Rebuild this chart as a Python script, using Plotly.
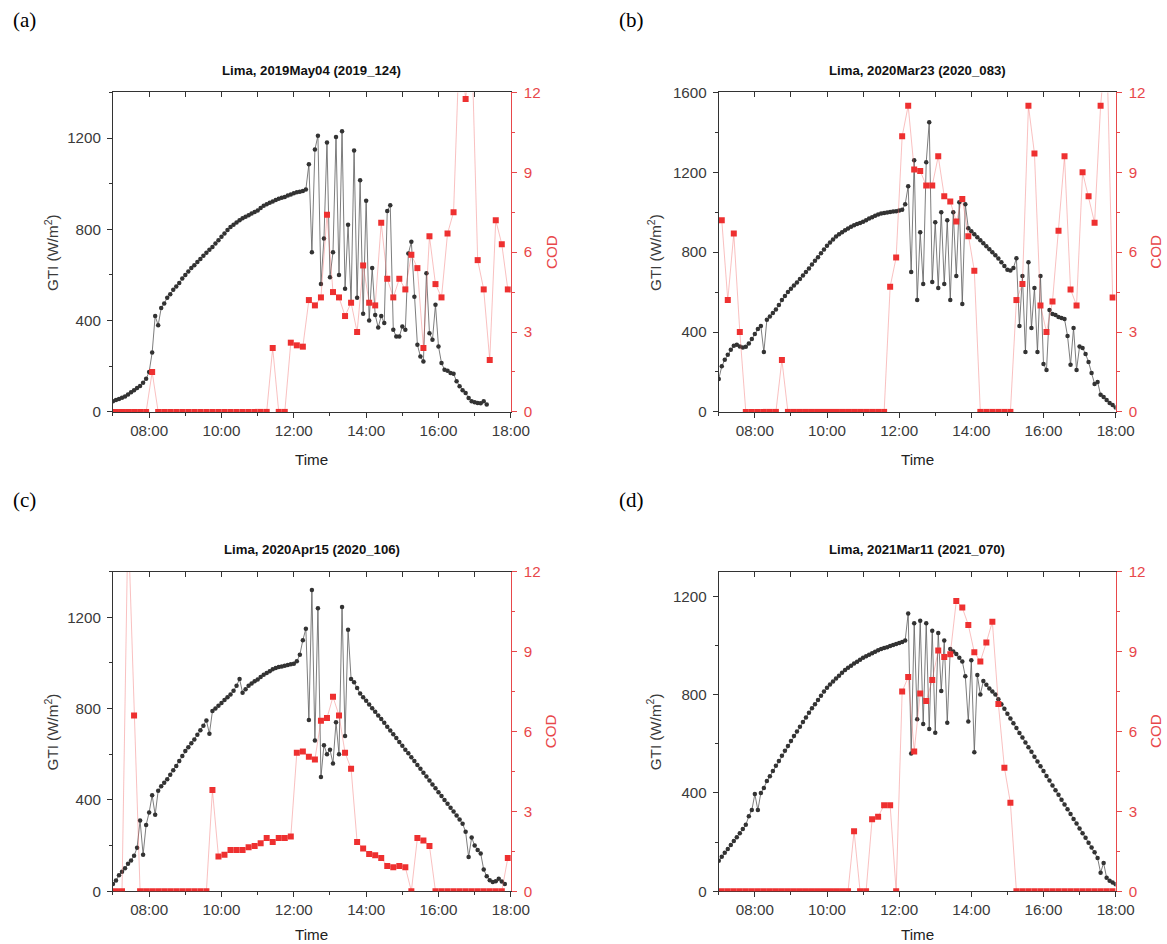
import plotly.graph_objects as go
import pandas as pd

# The figure is pinned to the page's top-left corner. The captured picture
# maps page pixels to picture pixels as: picture = offset + scale * page,
# so positions (given in picture pixels) are converted with fx / fy below.
SCALE_X, SCALE_Y = 0.9843, 0.9836
OFF_X, OFF_Y = 1.0, 8.5
FW, FH = 1186, 952

dates = ["2019-05-04", "2020-03-23", "2020-04-15", "2021-03-11"]
titles = ["Lima, 2019May04 (2019_124)", "Lima, 2020Mar23 (2020_083)",
          "Lima, 2020Apr15 (2020_106)", "Lima, 2021Mar11 (2021_070)"]
panel_labels = ["(a)", "(b)", "(c)", "(d)"]
gti_max = [1400, 1600, 1400, 1300]
gti_ticks = [0, 400, 800, 1200, 1600]
cod_ticks = [0, 3, 6, 9, 12]

# GTI (W/m2), every 5 min from 07:00 to 18:00 (133 values)
gti_a = [47, 52, 57, 62, 68, 76, 86, 95, 105, 114, 128, 145,
         175, 260, 420, 380, 455, 475, 500, 515, 535, 550, 565, 585,
         600, 615, 630, 643, 657, 670, 684, 697, 710, 723, 738, 752,
         767, 782, 797, 810, 820, 830, 840, 848, 855, 862, 869, 876,
         883, 893, 903, 910, 916, 922, 928, 934, 938, 942, 948, 953,
         958, 962, 965, 968, 975, 1085, 700, 1150, 1210, 560, 760, 1180,
         590, 700, 1205, 600, 1230, 540, 820, 480, 1145, 500, 1015, 430,
         925, 400, 630, 425, 370, 420, 390, 880, 905, 360, 330, 330,
         374, 360, 694, 745, 505, 294, 243, 221, 607, 345, 316, 469,
         287, 214, 185, 180, 170, 167, 134, 112, 95, 83, 61, 47,
         42, 39, 38, 47, 32, None, None, None, None, None, None, None,
         None]
gti_b = [165, 228, 261, 286, 311, 331, 336, 328, 322, 326, 342, 365,
         390, 415, 430, 300, 461, 478, 495, 513, 535, 560, 580, 600,
         617, 633, 648, 665, 683, 700, 718, 738, 757, 775, 795, 813,
         832, 848, 863, 878, 890, 900, 910, 918, 927, 935, 941, 946,
         952, 960, 968, 975, 982, 988, 993, 996, 999, 1001, 1003, 1005,
         1008, 1012, 1040, 1130, 700, 1260, 560, 900, 640, 1250, 1450, 650,
         950, 620, 1000, 640, 960, 560, 1000, 680, 1050, 540, 1040, 920,
         905, 890, 875, 860, 845, 830, 815, 800, 785, 768, 750, 730,
         712, 708, 720, 770, 430, 680, 300, 750, 420, 620, 300, 680,
         240, 210, 510, 490, 485, 475, 470, 465, 380, 236, 420, 210,
         327, 320, 290, 250, 195, 140, 150, 86, 75, 60, 45, 35,
         22]
gti_c = [32, 47, 70, 85, 100, 120, 135, 155, 190, 310, 160, 290,
         345, 420, 335, 440, 460, 475, 490, 510, 530, 549, 570, 592,
         614, 631, 648, 665, 685, 705, 725, 748, 690, 789, 801, 813,
         825, 838, 850, 862, 878, 900, 930, 870, 885, 900, 910, 920,
         928, 938, 948, 956, 964, 972, 978, 982, 985, 988, 991, 994,
         997, 1007, 1036, 1100, 1150, 750, 1320, 660, 1240, 500, 640, 600,
         620, 560, 740, 600, 1245, 680, 1145, 930, 915, 890, 866, 850,
         834, 818, 802, 786, 770, 754, 738, 721, 704, 688, 671, 654,
         637, 620, 604, 587, 570, 553, 536, 519, 502, 485, 468, 451,
         434, 417, 400, 383, 366, 349, 332, 314, 296, 260, 150, 235,
         200, 180, 165, 95, 65, 48, 40, 44, 54, 42, 32, None,
         None]
gti_d = [124, 140, 156, 172, 188, 204, 219, 236, 253, 270, 305, 330,
         395, 330, 400, 420, 448, 468, 489, 510, 530, 551, 571, 591,
         611, 631, 650, 669, 688, 707, 726, 744, 761, 778, 795, 812,
         828, 841, 853, 865, 877, 889, 900, 909, 917, 926, 934, 942,
         950, 956, 962, 968, 974, 980, 985, 989, 993, 998, 1002, 1006,
         1010, 1014, 1020, 1130, 560, 1090, 700, 1100, 680, 1090, 660, 1060,
         645, 1050, 815, 1020, 685, 985, 975, 965, 950, 935, 875, 690,
         940, 565, 880, 800, 855, 840, 825, 812, 800, 781, 761, 742,
         722, 703, 683, 664, 644, 625, 605, 586, 567, 547, 528, 508,
         489, 469, 450, 430, 411, 392, 372, 353, 333, 314, 294, 275,
         255, 236, 217, 197, 178, 158, 135, 75, 115, 55, 42, 35,
         28]

# COD, every 10 min from 07:05 to 17:55 (66 values)
cod_a = [0, 0, 0, 0, 0, 0, 1.5,
         0, 0, 0, 0, 0, 0, 0, 0, 0, 0, 0, 0, 0, 0, 0, 0, 0, 0, 0,
         2.4, 0, 0,
         2.6, 2.5, 2.45, 4.2, 4.0, 4.3, 7.4, 4.5, 4.3, 3.6, 4.1, 3.0, 5.5,
         4.1, 4.0, 7.1, 5.0, 4.3, 5.0, 4.6, 5.9, 5.4, 2.4, 6.6, 4.8, 4.3,
         6.7, 7.5, 14, 11.75, 14, 5.7, 4.6, 1.95, 7.2, 6.3, 4.6]
cod_b = [7.2, 4.2, 6.7, 3.0, 0, 0, 0, 0, 0, 0, 1.95,
         0, 0, 0, 0, 0, 0, 0, 0, 0, 0, 0, 0, 0, 0, 0, 0, 0,
         4.7, 5.8, 10.35, 11.5, 9.1, 9.05, 8.5, 8.5, 9.6, 8.1, 7.9, 7.15,
         8.0, 6.6, 5.3,
         0, 0, 0, 0, 0, 0,
         4.2, 4.8, 11.5, 9.7, 4.0, 3.0, 4.15, 6.8, 9.6, 4.6, 4.0, 9.0,
         8.1, 7.1, 11.5, 14, 4.3]
cod_c = [0, 0, 14, 6.6,
         0, 0, 0, 0, 0, 0, 0, 0, 0, 0, 0, 0,
         3.8, 1.3, 1.37, 1.55, 1.55, 1.55, 1.65, 1.7, 1.8, 2.0, 1.85, 2.0,
         2.0, 2.05,
         5.2, 5.25, 5.05, 4.95, 6.4, 6.5, 7.3, 6.6, 5.2, 4.6,
         1.85, 1.6, 1.4, 1.35, 1.25, 0.95, 0.9, 0.95, 0.9,
         0, 2.0, 1.9, 1.7,
         0, 0, 0, 0, 0, 0, 0, 0, 0, 0, 0, 0,
         1.25]
cod_d = [0, 0, 0, 0, 0, 0, 0, 0, 0, 0, 0, 0, 0, 0, 0, 0, 0, 0, 0, 0, 0, 0,
         2.25, 0, 0, 2.7, 2.8, 3.23, 3.23, 0,
         7.5, 8.04, 5.25, 7.42, 7.14, 7.93, 9.04, 8.8, 8.9, 10.9, 10.65,
         10.0, 8.97, 8.63, 9.34, 10.12, 7.03, 4.64, 3.32,
         0, 0, 0, 0, 0, 0, 0, 0, 0, 0, 0, 0, 0, 0, 0, 0, 0]

gti_all = [gti_a, gti_b, gti_c, gti_d]
cod_all = [cod_a, cod_b, cod_c, cod_d]

# plot-area boxes in picture pixels (left, right, top, bottom)
boxes = [(114, 512, 92, 412), (720, 1117, 92, 412),
         (114, 512, 572, 892), (720, 1117, 572, 892)]
gti_title_x = [52, 655, 52, 655]
time_title_gap = [48, 48, 43, 43]

FONT = "Liberation Sans, Arial, sans-serif"
AX = "#333333"
TXT = "#3a3a3a"
RED = "#e8474a"
RED_MK = "#ee3030"
FS = 15.2


def fx(px):
    return ((px - OFF_X) / SCALE_X) / FW


def fy(py):
    return 1 - ((py - OFF_Y) / SCALE_Y) / FH


def ref(prefix, n):
    return prefix if n == 1 else f"{prefix}{n}"


fig = go.Figure()
layout = {}
annotations = []

for i in range(4):
    d = dates[i]
    l, r, t, b = boxes[i]
    xn, xt, gy, cy = i + 1, i + 5, 2 * i + 1, 2 * i + 2
    xr = [f"{d} 07:00", f"{d} 18:00"]

    gti_times = pd.date_range(f"{d} 07:00", f"{d} 18:00", freq="5min")
    cod_times = pd.date_range(f"{d} 07:05", f"{d} 17:55", freq="10min")

    fig.add_trace(go.Scatter(
        x=gti_times, y=gti_all[i], mode="lines+markers",
        xaxis=ref("x", xn), yaxis=ref("y", gy),
        line=dict(color="#666666", width=0.85),
        marker=dict(size=4.5, color="#333333", symbol="circle"),
        showlegend=False, connectgaps=False))
    fig.add_trace(go.Scatter(
        x=cod_times, y=cod_all[i], mode="lines+markers",
        xaxis=ref("x", xn), yaxis=ref("y", cy),
        line=dict(color="rgba(238,90,90,0.55)", width=0.7),
        marker=dict(size=6, color=RED_MK, symbol="square"),
        showlegend=False, cliponaxis=True))
    fig.add_trace(go.Scatter(
        x=[], y=[], xaxis=ref("x", xt), yaxis=ref("y", gy),
        showlegend=False, hoverinfo="skip"))

    layout["xaxis" if xn == 1 else f"xaxis{xn}"] = dict(
        domain=[fx(l), fx(r)], anchor=ref("y", gy), type="date", range=xr,
        tick0=f"{d} 08:00", dtick=2 * 3600 * 1000, tickformat="%H:%M",
        ticks="outside", ticklen=5, tickwidth=1, tickcolor=AX,
        minor=dict(ticks="outside", ticklen=3, tickcolor=AX,
                   tick0=f"{d} 07:00", dtick=3600 * 1000, showgrid=False),
        showline=True, linecolor=AX, linewidth=1, showgrid=False,
        zeroline=False, tickfont=dict(family=FONT, size=FS, color=TXT),
        layer="below traces")
    layout[f"xaxis{xt}"] = dict(
        overlaying=ref("x", xn), side="top", anchor=ref("y", gy),
        type="date", range=xr, tick0=f"{d} 07:00", dtick=3600 * 1000,
        ticks="inside", ticklen=5, tickwidth=1, tickcolor=AX,
        showticklabels=False, showline=True, linecolor=AX, linewidth=1,
        showgrid=False, zeroline=False)
    layout["yaxis" if gy == 1 else f"yaxis{gy}"] = dict(
        domain=[fy(b), fy(t)], anchor=ref("x", xn), range=[0, gti_max[i]],
        tickvals=[v for v in gti_ticks if v <= gti_max[i]],
        ticks="outside", ticklen=5, tickwidth=1, tickcolor=AX,
        minor=dict(ticks="outside", ticklen=3, tickcolor=AX, dtick=200,
                   tick0=0, showgrid=False),
        showline=True, linecolor=AX, linewidth=1, showgrid=False,
        zeroline=False, ticklabelstandoff=3,
        tickfont=dict(family=FONT, size=FS, color=TXT))
    layout[f"yaxis{cy}"] = dict(
        overlaying=ref("y", gy), side="right", anchor=ref("x", xn),
        range=[0, 12], tickvals=cod_ticks,
        ticks="outside", ticklen=5, tickwidth=1, tickcolor=RED,
        minor=dict(ticks="outside", ticklen=3, tickcolor=RED, dtick=1.5,
                   tick0=0, showgrid=False),
        showline=True, linecolor=RED, linewidth=1, showgrid=False,
        zeroline=False, ticklabelstandoff=4,
        tickfont=dict(family=FONT, size=FS, color=RED))

    ymid = fy((t + b) / 2)
    xmid = fx((l + r) / 2)
    annotations += [
        dict(text=panel_labels[i], x=fx(l - 102), y=fy(t - 72),
             xref="paper", yref="paper", xanchor="left", yanchor="middle",
             showarrow=False,
             font=dict(family="Liberation Serif, Times New Roman, serif",
                       size=21, color="#000")),
        dict(text=f"<b>{titles[i]}</b>", x=xmid, y=fy(t - 22),
             xref="paper", yref="paper", xanchor="center", yanchor="middle",
             showarrow=False, font=dict(family=FONT, size=13.2, color="#111")),
        dict(text="GTI (W/m<sup>2</sup>)", x=fx(gti_title_x[i]), y=ymid,
             xref="paper", yref="paper", xanchor="center", yanchor="middle",
             textangle=-90, showarrow=False,
             font=dict(family=FONT, size=FS, color=TXT)),
        dict(text="COD", x=fx(r + 40), y=ymid,
             xref="paper", yref="paper", xanchor="center", yanchor="middle",
             textangle=-90, showarrow=False,
             font=dict(family=FONT, size=FS, color=RED)),
        dict(text="Time", x=xmid, y=fy(b + time_title_gap[i]),
             xref="paper", yref="paper", xanchor="center", yanchor="middle",
             showarrow=False, font=dict(family=FONT, size=FS, color="#222")),
    ]

fig.update_layout(
    width=FW, height=FH, margin=dict(l=0, r=0, t=0, b=0),
    paper_bgcolor="white", plot_bgcolor="white",
    annotations=annotations, **layout)

pin_script = (
    "document.documentElement.style.margin='0';"
    "document.documentElement.style.overflow='hidden';"
    "document.body.style.margin='0';"
    "document.body.style.overflow='hidden';"
    "var gd=document.getElementById('{plot_id}');"
    "gd.style.position='fixed';gd.style.top='0px';gd.style.left='0px';"
)

fig.write_html("out.html", post_script=pin_script,
               config={"displayModeBar": False})
